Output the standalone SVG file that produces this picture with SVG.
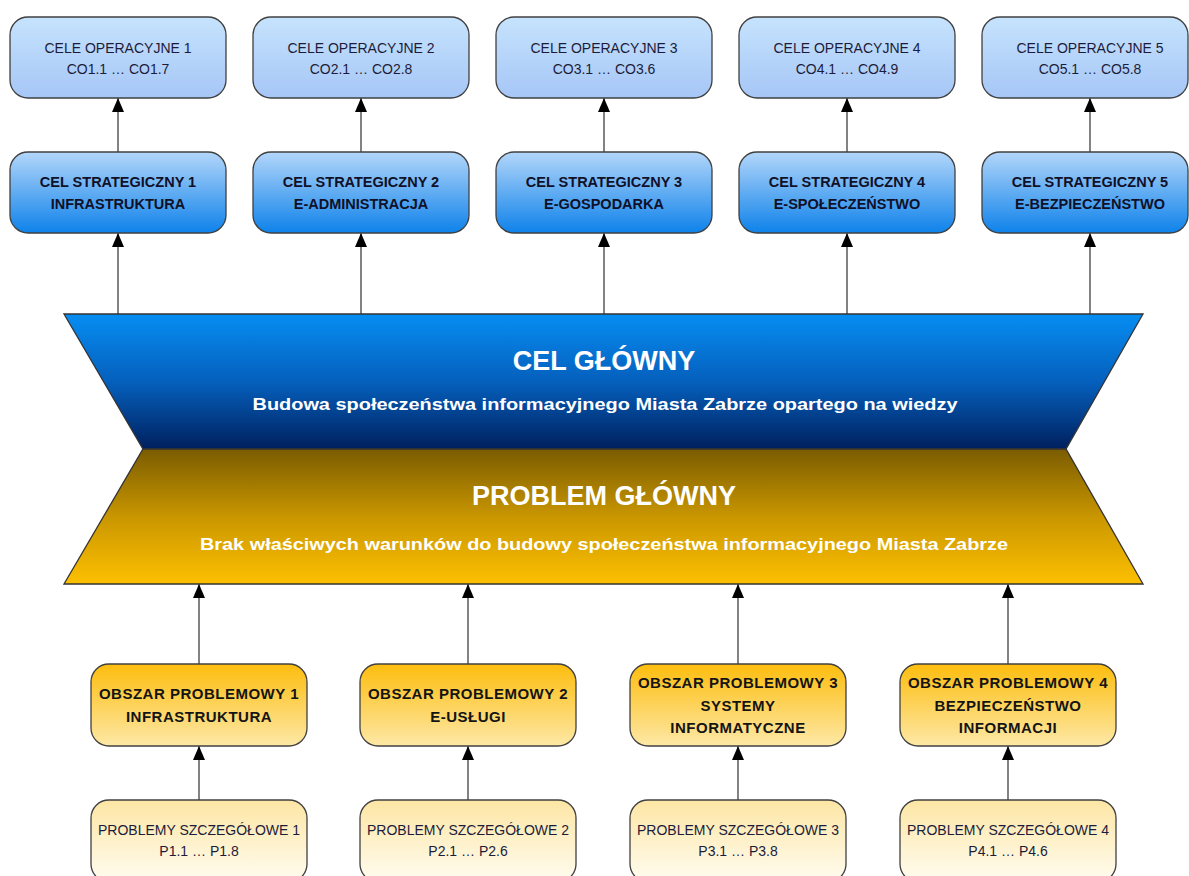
<svg xmlns="http://www.w3.org/2000/svg" width="1189" height="876" viewBox="0 0 1189 876">
<defs>
<linearGradient id="gOp" x1="0" y1="0" x2="0" y2="1"><stop offset="0" stop-color="#c6e3fd"/><stop offset="1" stop-color="#a6c6f6"/></linearGradient>
<linearGradient id="gSt" x1="0" y1="0" x2="0" y2="1"><stop offset="0" stop-color="#b3d6fa"/><stop offset="1" stop-color="#0e82ea"/></linearGradient>
<linearGradient id="gBlue" x1="0" y1="0" x2="0" y2="1"><stop offset="0" stop-color="#068df2"/><stop offset="0.5" stop-color="#0560bd"/><stop offset="1" stop-color="#00205e"/></linearGradient>
<linearGradient id="gYel" x1="0" y1="0" x2="0" y2="1"><stop offset="0" stop-color="#7a5c00"/><stop offset="0.5" stop-color="#c99600"/><stop offset="1" stop-color="#fdc000"/></linearGradient>
<linearGradient id="gOb" x1="0" y1="0" x2="0" y2="1"><stop offset="0" stop-color="#fdbd0e"/><stop offset="1" stop-color="#fde8a6"/></linearGradient>
<linearGradient id="gPr" x1="0" y1="0" x2="0" y2="1"><stop offset="0" stop-color="#fde6a4"/><stop offset="1" stop-color="#fffcf0"/></linearGradient>
<marker id="arr" viewBox="0 0 14 12" refX="14" refY="6" markerWidth="14" markerHeight="12" markerUnits="userSpaceOnUse" orient="auto"><path d="M0,0 L14,6 L0,12 Z" fill="#000"/></marker>
</defs>
<style>
.box{stroke:#404040;stroke-width:1.3}
.op{fill:url(#gOp)}
.st{fill:url(#gSt)}
.ob{fill:url(#gOb)}
.pr{fill:url(#gPr)}
.t{font-family:"Liberation Sans",Arial,sans-serif;text-anchor:middle;fill:#1c1c3a}
.n{font-size:14px}
.b{font-size:14.5px;font-weight:bold;fill:#101028}
.bo{font-size:15px;font-weight:bold;fill:#141414;letter-spacing:0.5px}
.w{font-family:"Liberation Sans",Arial,sans-serif;text-anchor:middle;fill:#fff;font-weight:bold}
.c{stroke:#404040;stroke-width:1.3;fill:none;marker-end:url(#arr)}
</style>
<rect width="1189" height="876" fill="#fff"/>

<g id="connectors">
<path class="c" d="M118,152 V98"/>
<path class="c" d="M361,152 V98"/>
<path class="c" d="M604,152 V98"/>
<path class="c" d="M847,152 V98"/>
<path class="c" d="M1090,152 V98"/>
<path class="c" d="M118,314 V233"/>
<path class="c" d="M361,314 V233"/>
<path class="c" d="M604,314 V233"/>
<path class="c" d="M847,314 V233"/>
<path class="c" d="M1090,314 V233"/>
<path class="c" d="M199,664 V584"/>
<path class="c" d="M468,664 V584"/>
<path class="c" d="M738,664 V584"/>
<path class="c" d="M1008,664 V584"/>
<path class="c" d="M199,800 V746"/>
<path class="c" d="M468,800 V746"/>
<path class="c" d="M738,800 V746"/>
<path class="c" d="M1008,800 V746"/>
</g>

<g id="co1"><rect class="box op" x="10" y="17" width="216" height="81" rx="18"/><text class="t n" x="118" y="53">CELE OPERACYJNE 1</text><text class="t n" x="118" y="74">CO1.1 … CO1.7</text></g>
<g id="co2"><rect class="box op" x="253" y="17" width="216" height="81" rx="18"/><text class="t n" x="361" y="53">CELE OPERACYJNE 2</text><text class="t n" x="361" y="74">CO2.1 … CO2.8</text></g>
<g id="co3"><rect class="box op" x="496" y="17" width="216" height="81" rx="18"/><text class="t n" x="604" y="53">CELE OPERACYJNE 3</text><text class="t n" x="604" y="74">CO3.1 … CO3.6</text></g>
<g id="co4"><rect class="box op" x="739" y="17" width="216" height="81" rx="18"/><text class="t n" x="847" y="53">CELE OPERACYJNE 4</text><text class="t n" x="847" y="74">CO4.1 … CO4.9</text></g>
<g id="co5"><rect class="box op" x="982" y="17" width="206" height="81" rx="18"/><text class="t n" x="1090" y="53">CELE OPERACYJNE 5</text><text class="t n" x="1090" y="74">CO5.1 … CO5.8</text></g>

<g id="cs1"><rect class="box st" x="10" y="152" width="216" height="81" rx="18"/><text class="t b" x="118" y="187">CEL STRATEGICZNY 1</text><text class="t b" x="118" y="209">INFRASTRUKTURA</text></g>
<g id="cs2"><rect class="box st" x="253" y="152" width="216" height="81" rx="18"/><text class="t b" x="361" y="187">CEL STRATEGICZNY 2</text><text class="t b" x="361" y="209">E-ADMINISTRACJA</text></g>
<g id="cs3"><rect class="box st" x="496" y="152" width="216" height="81" rx="18"/><text class="t b" x="604" y="187">CEL STRATEGICZNY 3</text><text class="t b" x="604" y="209">E-GOSPODARKA</text></g>
<g id="cs4"><rect class="box st" x="739" y="152" width="216" height="81" rx="18"/><text class="t b" x="847" y="187">CEL STRATEGICZNY 4</text><text class="t b" x="847" y="209">E-SPOŁECZEŃSTWO</text></g>
<g id="cs5"><rect class="box st" x="982" y="152" width="206" height="81" rx="18"/><text class="t b" x="1090" y="187">CEL STRATEGICZNY 5</text><text class="t b" x="1090" y="209">E-BEZPIECZEŃSTWO</text></g>

<g id="cel-glowny">
<polygon points="64,314 1143,314 1066,449 143,449" fill="url(#gBlue)" stroke="#333" stroke-width="1.3"/>
<text class="w" x="604" y="370" font-size="27">CEL GŁÓWNY</text>
<text class="w" x="605" y="410" font-size="16" textLength="705" lengthAdjust="spacingAndGlyphs">Budowa społeczeństwa informacyjnego Miasta Zabrze opartego na wiedzy</text>
</g>
<g id="problem-glowny">
<polygon points="143,449 1066,449 1143,584 64,584" fill="url(#gYel)" stroke="#333" stroke-width="1.3"/>
<text class="w" x="604" y="505" font-size="27">PROBLEM GŁÓWNY</text>
<text class="w" x="604" y="550" font-size="16" textLength="808" lengthAdjust="spacingAndGlyphs">Brak właściwych warunków do budowy społeczeństwa informacyjnego Miasta Zabrze</text>
</g>

<g id="op1"><rect class="box ob" x="91" y="664" width="216" height="82" rx="18"/><text class="t bo" x="199" y="699">OBSZAR PROBLEMOWY 1</text><text class="t bo" x="199" y="722">INFRASTRUKTURA</text></g>
<g id="op2"><rect class="box ob" x="360" y="664" width="216" height="82" rx="18"/><text class="t bo" x="468" y="699">OBSZAR PROBLEMOWY 2</text><text class="t bo" x="468" y="722">E-USŁUGI</text></g>
<g id="op3"><rect class="box ob" x="630" y="664" width="216" height="82" rx="18"/><text class="t bo" x="738" y="688">OBSZAR PROBLEMOWY 3</text><text class="t bo" x="738" y="711">SYSTEMY</text><text class="t bo" x="738" y="733">INFORMATYCZNE</text></g>
<g id="op4"><rect class="box ob" x="900" y="664" width="216" height="82" rx="18"/><text class="t bo" x="1008" y="688">OBSZAR PROBLEMOWY 4</text><text class="t bo" x="1008" y="711">BEZPIECZEŃSTWO</text><text class="t bo" x="1008" y="733">INFORMACJI</text></g>

<g id="ps1"><rect class="box pr" x="91" y="800" width="216" height="82" rx="18"/><text class="t n" x="199" y="835">PROBLEMY SZCZEGÓŁOWE 1</text><text class="t n" x="199" y="856">P1.1 … P1.8</text></g>
<g id="ps2"><rect class="box pr" x="360" y="800" width="216" height="82" rx="18"/><text class="t n" x="468" y="835">PROBLEMY SZCZEGÓŁOWE 2</text><text class="t n" x="468" y="856">P2.1 … P2.6</text></g>
<g id="ps3"><rect class="box pr" x="630" y="800" width="216" height="82" rx="18"/><text class="t n" x="738" y="835">PROBLEMY SZCZEGÓŁOWE 3</text><text class="t n" x="738" y="856">P3.1 … P3.8</text></g>
<g id="ps4"><rect class="box pr" x="900" y="800" width="216" height="82" rx="18"/><text class="t n" x="1008" y="835">PROBLEMY SZCZEGÓŁOWE 4</text><text class="t n" x="1008" y="856">P4.1 … P4.6</text></g>
</svg>
